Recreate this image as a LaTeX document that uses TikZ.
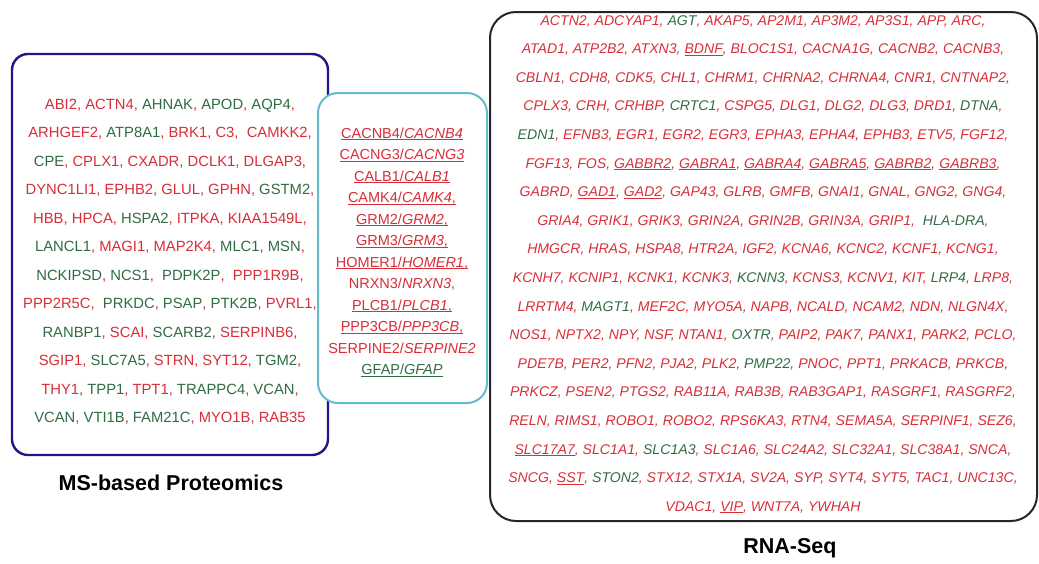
\documentclass[tikz,border=0pt]{standalone}
\usepackage{fontspec}
\setmainfont{Liberation Sans}
\definecolor{gred}{RGB}{216,46,56}
\definecolor{ggreen}{RGB}{48,108,68}
\definecolor{navybox}{RGB}{32,22,132}
\definecolor{cyanbox}{RGB}{100,188,204}
\definecolor{darkbox}{RGB}{38,38,38}
\newcommand{\gtx}[1]{{\color{ggreen}#1}}
\newcommand{\utx}[1]{{\setbox0=\hbox{#1}\rlap{\rule[-1.8pt]{\wd0}{0.7pt}}\box0}}
\begin{document}
\begin{tikzpicture}[x=1pt,y=-1pt,
  protrow/.style={anchor=base,text=gred,inner sep=0pt,font=\fontsize{14.8}{17}\selectfont},
  midrow/.style={anchor=base,text=gred,inner sep=0pt,font=\fontsize{14.5}{17}\selectfont},
  rnarow/.style={anchor=base,text=gred,inner sep=0pt,font=\fontsize{14.1}{16}\selectfont\itshape},
  title/.style={anchor=base,inner sep=0pt,text=black,font=\fontsize{21.5}{24}\selectfont\bfseries}]
\useasboundingbox (0,0) rectangle (1039,563);
% boxes
\draw[navybox,line width=2.4pt,rounded corners=16,fill=white] (12,54) rectangle (328,455);
\draw[cyanbox,line width=2pt,rounded corners=20,fill=white] (318,93) rectangle (487,403);
\draw[darkbox,line width=2pt,rounded corners=26] (490,12) rectangle (1037,521);
% left box rows
\node[protrow] (l1) at (170,109.2) {ABI2, ACTN4, \gtx{AHNAK}, \gtx{APOD}, \gtx{AQP4},};
\node[protrow] (l2) at (170,137.7) {ARHGEF2, \gtx{ATP8A1}, BRK1, C3,\ \ CAMKK2,};
\node[protrow] (l3) at (170,166.2) {\gtx{CPE}, CPLX1, CXADR, DCLK1, DLGAP3,};
\node[protrow] (l4) at (170,194.7) {DYNC1LI1, EPHB2, GLUL, GPHN, \gtx{GSTM2},};
\node[protrow] (l5) at (170,223.2) {HBB, HPCA, \gtx{HSPA2}, ITPKA, KIAA1549L,};
\node[protrow] (l6) at (170,251.7) {\gtx{LANCL1}, MAGI1, MAP2K4, \gtx{MLC1}, \gtx{MSN},};
\node[protrow] (l7) at (170,280.2) {\gtx{NCKIPSD}, \gtx{NCS1},\ \ \gtx{PDPK2P},\ \ PPP1R9B,};
\node[protrow] (l8) at (170,308.7) {PPP2R5C,\ \ \gtx{PRKDC}, \gtx{PSAP}, \gtx{PTK2B}, PVRL1,};
\node[protrow] (l9) at (170,337.2) {\gtx{RANBP1}, SCAI, \gtx{SCARB2}, SERPINB6,};
\node[protrow] (l10) at (170,365.7) {SGIP1, \gtx{SLC7A5}, STRN, SYT12, \gtx{TGM2},};
\node[protrow] (l11) at (170,394.2) {THY1, \gtx{TPP1}, TPT1, \gtx{TRAPPC4}, \gtx{VCAN},};
\node[protrow] (l12) at (170,422.7) {\gtx{VCAN}, \gtx{VTI1B}, \gtx{FAM21C}, MYO1B, RAB35};
% middle box rows
\node[midrow] (m1) at (402,138) {\utx{CACNB4/\textit{CACNB4}}};
\node[midrow] (m2) at (402,159.5) {\utx{CACNG3/\textit{CACNG3}}};
\node[midrow] (m3) at (402,181) {\utx{CALB1/\textit{CALB1}}};
\node[midrow] (m4) at (402,202.5) {\utx{CAMK4/\textit{CAMK4},}};
\node[midrow] (m5) at (402,224) {\utx{GRM2/\textit{GRM2},}};
\node[midrow] (m6) at (402,245.5) {\utx{GRM3/\textit{GRM3},}};
\node[midrow] (m7) at (402,267) {\utx{HOMER1/\textit{HOMER1},}};
\node[midrow] (m8) at (402,288.5) {NRXN3/\textit{NRXN3},};
\node[midrow] (m9) at (402,310) {\utx{PLCB1/\textit{PLCB1},}};
\node[midrow] (m10) at (402,331.5) {\utx{PPP3CB/\textit{PPP3CB},}};
\node[midrow] (m11) at (402,353) {SERPINE2/\textit{SERPINE2}};
\node[midrow,text=ggreen] (m12) at (402,374.5) {\utx{GFAP/\textit{GFAP}}};
% right box rows
\node[rnarow] (r1) at (763,25.1) {ACTN2, ADCYAP1, \gtx{AGT}, AKAP5, AP2M1, AP3M2, AP3S1, APP, ARC,};
\node[rnarow] (r2) at (763,53.7) {ATAD1, ATP2B2, ATXN3, \utx{BDNF}, BLOC1S1, CACNA1G, CACNB2, CACNB3,};
\node[rnarow] (r3) at (763,82.3) {CBLN1, CDH8, CDK5, CHL1, CHRM1, CHRNA2, CHRNA4, CNR1, CNTNAP2,};
\node[rnarow] (r4) at (763,110.9) {CPLX3, CRH, CRHBP, \gtx{CRTC1}, CSPG5, DLG1, DLG2, DLG3, DRD1, \gtx{DTNA},};
\node[rnarow] (r5) at (763,139.5) {\gtx{EDN1}, EFNB3, EGR1, EGR2, EGR3, EPHA3, EPHA4, EPHB3, ETV5, FGF12,};
\node[rnarow] (r6) at (763,168.1) {FGF13, FOS, \utx{GABBR2}, \utx{GABRA1}, \utx{GABRA4}, \utx{GABRA5}, \utx{GABRB2}, \utx{GABRB3},};
\node[rnarow] (r7) at (763,196.7) {GABRD, \utx{GAD1}, \utx{GAD2}, GAP43, GLRB, GMFB, GNAI1, GNAL, GNG2, GNG4,};
\node[rnarow] (r8) at (763,225.3) {GRIA4, GRIK1, GRIK3, GRIN2A, GRIN2B, GRIN3A, GRIP1,\ \ \gtx{HLA-DRA},};
\node[rnarow] (r9) at (763,253.9) {HMGCR, HRAS, HSPA8, HTR2A, IGF2, KCNA6, KCNC2, KCNF1, KCNG1,};
\node[rnarow] (r10) at (763,282.5) {KCNH7, KCNIP1, KCNK1, KCNK3, \gtx{KCNN3}, KCNS3, KCNV1, KIT, \gtx{LRP4}, LRP8,};
\node[rnarow] (r11) at (763,311.1) {LRRTM4, \gtx{MAGT1}, MEF2C, MYO5A, NAPB, NCALD, NCAM2, NDN, NLGN4X,};
\node[rnarow] (r12) at (763,339.7) {NOS1, NPTX2, NPY, NSF, NTAN1, \gtx{OXTR}, PAIP2, PAK7, PANX1, PARK2, PCLO,};
\node[rnarow] (r13) at (763,368.3) {PDE7B, PER2, PFN2, PJA2, PLK2, \gtx{PMP22}, PNOC, PPT1, PRKACB, PRKCB,};
\node[rnarow] (r14) at (763,396.9) {PRKCZ, PSEN2, PTGS2, RAB11A, RAB3B, RAB3GAP1, RASGRF1, RASGRF2,};
\node[rnarow] (r15) at (763,425.5) {RELN, RIMS1, ROBO1, ROBO2, RPS6KA3, RTN4, SEMA5A, SERPINF1, SEZ6,};
\node[rnarow] (r16) at (763,454.1) {\utx{SLC17A7}, SLC1A1, \gtx{SLC1A3}, SLC1A6, SLC24A2, SLC32A1, SLC38A1, SNCA,};
\node[rnarow] (r17) at (763,482.7) {SNCG, \utx{SST}, \gtx{STON2}, STX12, STX1A, SV2A, SYP, SYT4, SYT5, TAC1, UNC13C,};
\node[rnarow] (r18) at (763,511.3) {VDAC1, \utx{VIP}, WNT7A, YWHAH};
% titles
\node[title] (tprot) at (171,490.8) {MS-based Proteomics};
\node[title] (trna) at (790,553.6) {RNA-Seq};
\end{tikzpicture}
\end{document}
